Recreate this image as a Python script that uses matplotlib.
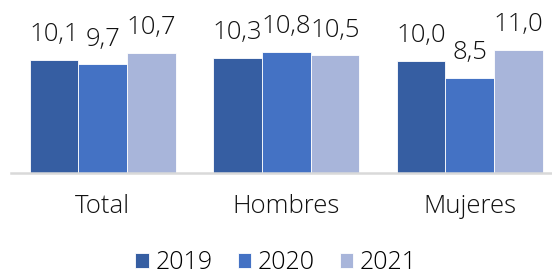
import numpy as np
from matplotlib import pyplot as plt

plt.rcParams['font.family'] = ['Open Sans', 'DejaVu Sans']

categories = ["Total", "Hombres", "Mujeres"]
years = ["2019", "2020", "2021"]
v2019 = [10.1, 10.3, 10.0]
v2020 = [9.7, 10.8, 8.5]
v2021 = [10.7, 10.5, 11.0]
colors = ["#365EA2", "#4472C4", "#A8B5DA"]

fig = plt.figure(figsize=(5.52, 2.78), dpi=100)
ax = fig.add_axes([11 / 552, 1 - 173 / 278, 1 - 11 / 552, 173 / 278])

x = np.arange(len(categories))
width = 0.266
for i, (vals, year) in enumerate(zip([v2019, v2020, v2021], years)):
    pos = x + (i - 1) * width
    ax.bar(pos, vals, width, color=colors[i], edgecolor="white",
           linewidth=0.6, label=year)
    for xp, v in zip(pos, vals):
        ax.annotate("{:.1f}".format(v).replace(".", ","), (xp, v),
                    xytext=(0, 13.5), textcoords="offset points",
                    ha="center", va="baseline", fontsize=18.5,
                    fontweight="light", color="#111111")

ax.set_xlim(-0.5, 2.5 - 9.5 / 183.5)
ax.set_ylim(0, 173 / 11.2)
ax.set_xticks(x)
ax.set_xticklabels(categories, fontsize=18.5, fontweight="light", color="#111111")
ax.tick_params(axis="x", length=0, pad=15)
ax.set_yticks([])
for s in ["top", "right", "left"]:
    ax.spines[s].set_visible(False)
ax.spines["bottom"].set_color("#D9D9D9")
ax.spines["bottom"].set_linewidth(1.8)

fig.legend(loc="lower center", bbox_to_anchor=(0.5, -0.07), ncol=3,
           frameon=False, prop={"size": 18, "weight": "light"},
           handlelength=0.55, handleheight=0.55,
           handletextpad=0.25, columnspacing=1.0)

fig.savefig("out.png", dpi=100)
